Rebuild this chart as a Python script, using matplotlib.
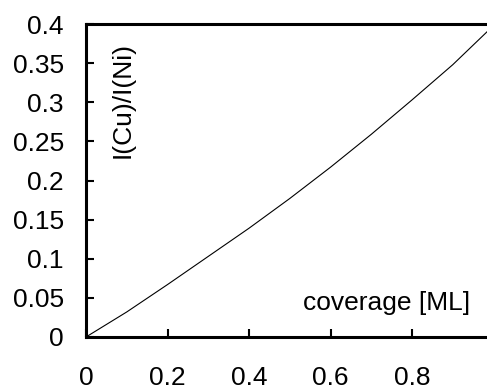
import matplotlib
matplotlib.use("Agg")
import matplotlib.pyplot as plt

plt.rcParams['font.family'] = ['Liberation Sans', 'DejaVu Sans']

coverage = [0.0, 0.1, 0.2, 0.3, 0.4, 0.5, 0.6, 0.7, 0.8, 0.9, 0.984]
ratio = [0.0, 0.032, 0.067, 0.103, 0.139, 0.177, 0.217, 0.259, 0.303, 0.348, 0.390]
xticks = [0, 0.2, 0.4, 0.6, 0.8]
xticklabels = ['0', '0.2', '0.4', '0.6', '0.8']
yticks = [0, 0.05, 0.1, 0.15, 0.2, 0.25, 0.3, 0.35, 0.4]
yticklabels = ['0', '0.05', '0.1', '0.15', '0.2', '0.25', '0.3', '0.35', '0.4']

fs = 19
fig = plt.figure(figsize=(4.87, 3.86), dpi=100)
ax = fig.add_axes([86/487, (386-337)/386, 1 - 86/487, (337-24)/386])
ax.plot(coverage, ratio, color='black', lw=0.8)
ax.set_xlim(0, 0.984)
ax.set_ylim(0, 0.4)
ax.set_xticks(xticks)
ax.set_xticklabels(xticklabels, fontsize=fs)
ax.set_yticks(yticks)
ax.set_yticklabels(yticklabels, fontsize=fs)
ax.tick_params(direction='in', length=6, width=1.5, pad=16)
ax.tick_params(axis='x', pad=21)
for s in ['left', 'bottom', 'top']:
    ax.spines[s].set_linewidth(2.2)
ax.spines['right'].set_visible(False)
ax.text(0.5325, 0.0345, 'coverage [ML]', fontsize=fs, ha='left', va='baseline')
ax.text(0.0896, 0.3032, 'I(Cu)/I(Ni)', fontsize=fs, rotation=90, ha='center', va='center')
fig.savefig('out.png', dpi=100)
